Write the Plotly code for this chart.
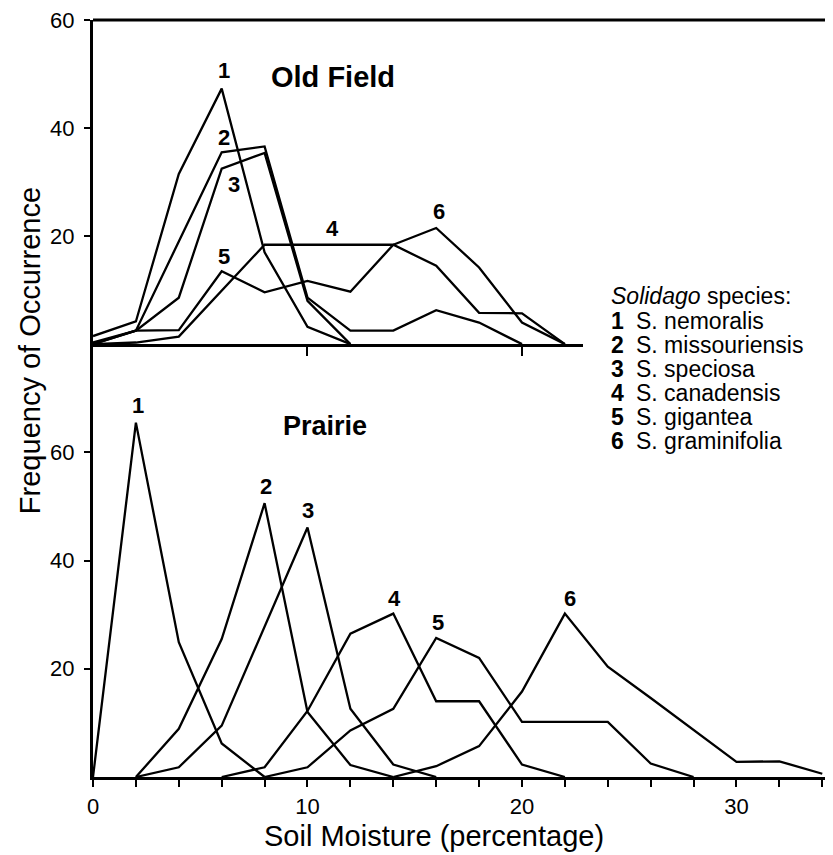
import plotly.graph_objects as go

# ---------------- data ----------------
OLD_FIELD_X = [0, 2, 4, 6, 8, 10, 12, 14, 16, 18, 20, 22]
of_s1 = [1.5, 4.2, 31.5, 47.3, 17.0, 3.2, 0, None, None, None, None, None]
of_s2 = [0, 2.5, 19.0, 35.5, 36.6, 8.6, 2.5, 2.5, 6.3, 4.0, 0, None]
of_s3 = [0, 2.5, 8.6, 32.5, 35.4, 8.0, 0, None, None, None, None, None]
of_s4 = [0, 0.3, 1.4, 9.9, 18.4, 18.4, 18.4, 18.4, 14.5, 5.8, 5.7, 0]
of_s5 = [0.3, 2.5, 2.6, 13.5, 9.6, 11.7, 9.7, 18.4, None, None, None, None]
of_s6 = [None, None, None, None, None, None, None, 18.4, 21.5, 14.2, 4.0, 0]

PRAIRIE_X = [0, 2, 4, 6, 8, 10, 12, 14, 16, 18, 20, 22, 24, 26, 28, 30, 32, 34]
pr_s1 = [0, 65.5, 24.9, 6.2, 0, None, None, None, None, None, None, None, None, None, None, None, None, None]
pr_s2 = [None, 0, 8.9, 25.5, 50.6, 12.0, 2.2, 0, None, None, None, None, None, None, None, None, None, None]
pr_s3 = [None, 0, 1.8, 9.5, 27.7, 46.1, 12.6, 2.3, 0, None, None, None, None, None, None, None, None, None]
pr_s4 = [None, None, None, 0, 1.8, 12.2, 26.5, 30.2, 14.0, 14.0, 2.3, 0, None, None, None, None, None, None]
pr_s5 = [None, None, None, None, 0, 1.8, 8.6, 12.6, 25.7, 22.0, 10.2, 10.2, 10.2, 2.5, 0, None, None, None]
pr_s6 = [None, None, None, None, None, None, None, 0, 2.0, 5.7, 15.8, 30.2, 20.4, 14.6, 8.7, 2.8, 2.9, 0.6]

SPECIES_NUM = ["1", "2", "3", "4", "5", "6"]
SPECIES_NAME = ["S. nemoralis", "S. missouriensis", "S. speciosa",
                "S. canadensis", "S. gigantea", "S. graminifolia"]

X_TICKS = list(range(0, 35, 2))
X_LABELS = {0: "0", 10: "10", 20: "20", 30: "30"}
Y_TICKS = [20, 40, 60]

# ---------------- layout constants ----------------
PAGE = 8                      # default body margin of the html page
W, H = 833 - PAGE, 855 - PAGE
ML, MR, MT, MB = 93 - PAGE, 0, 18 - PAGE, 855 - 777
X_MAX = 34.5
TOP_X_MAX = 22.85
BOTTOM_Y_MAX = 80
TOP_Y_MAX = 60
SPLIT = (777 - 343) / (777 - 18)  # bottom panel share of plot height

FONT = "Liberation Sans, Arial, Helvetica, sans-serif"
LW = 2.3

fig = go.Figure()

of_series = [of_s1, of_s2, of_s3, of_s4, of_s5, of_s6]
pr_series = [pr_s1, pr_s2, pr_s3, pr_s4, pr_s5, pr_s6]

for ys in of_series:
    fig.add_trace(go.Scatter(x=OLD_FIELD_X, y=ys, mode="lines", xaxis="x2", yaxis="y2",
                             line=dict(color="black", width=LW), connectgaps=False,
                             showlegend=False, hoverinfo="skip"))
for ys in pr_series:
    fig.add_trace(go.Scatter(x=PRAIRIE_X, y=ys, mode="lines", xaxis="x", yaxis="y",
                             line=dict(color="black", width=LW), connectgaps=False,
                             showlegend=False, hoverinfo="skip"))

annotations = []

def value_at(xs, ys, x):
    for i in range(len(xs) - 1):
        if xs[i] <= x <= xs[i + 1] and ys[i] is not None and ys[i + 1] is not None:
            t = (x - xs[i]) / (xs[i + 1] - xs[i])
            return ys[i] + t * (ys[i + 1] - ys[i])
    return None

def peak(xs, ys):
    best = max((v, x) for x, v in zip(xs, ys) if v is not None)
    return best[1], best[0]

def txt(**kw):
    base = dict(showarrow=False, xanchor="center", yanchor="middle")
    base.update(kw)
    return base

NUM_FS = 22
# number labels, Old Field: anchored on each curve at a given soil moisture
OF_LABEL_AT = [6, 6, 6, 11, 6, 16]
of_offsets = [(2, 18), (2, 15), (12, -16), (4, 16), (2, 15), (3, 16)]
for num, ys, xa, (dx, dy) in zip(SPECIES_NUM, of_series, OF_LABEL_AT, of_offsets):
    ya = value_at(OLD_FIELD_X, ys, xa)
    annotations.append(txt(x=xa, y=ya, xref="x2", yref="y2", text="<b>%s</b>" % num,
                           xshift=dx, yshift=dy,
                           font=dict(family=FONT, size=NUM_FS, color="black")))

# number labels, Prairie: above each peak
pr_offsets = [(2, 17), (1, 17), (1, 17), (1, 15), (2, 15), (5, 15)]
for num, ys, (dx, dy) in zip(SPECIES_NUM, pr_series, pr_offsets):
    px, py = peak(PRAIRIE_X, ys)
    annotations.append(txt(x=px, y=py, xref="x", yref="y", text="<b>%s</b>" % num,
                           xshift=dx, yshift=dy,
                           font=dict(family=FONT, size=NUM_FS, color="black")))

def paper_xy(px, py):
    """page pixel -> paper coordinates"""
    fx, fy = px - PAGE, py - PAGE
    return (fx - ML) / (W - ML - MR), (H - MB - fy) / (H - MT - MB)

# panel titles
x, y = paper_xy(333, 75)
annotations.append(txt(x=x, y=y, xref="paper", yref="paper", text="<b>Old Field</b>",
                       font=dict(family=FONT, size=29, color="black")))
x, y = paper_xy(325, 425)
annotations.append(txt(x=x, y=y, xref="paper", yref="paper", text="<b>Prairie</b>",
                       font=dict(family=FONT, size=27, color="black")))

# species key
LEG_FS = 23
x0, y0 = paper_xy(609, 295)
annotations.append(txt(x=x0, y=y0, xref="paper", yref="paper", xanchor="left",
                       text="<i>Solidago</i> species:",
                       font=dict(family=FONT, size=LEG_FS, color="black")))
for i, (num, name) in enumerate(zip(SPECIES_NUM, SPECIES_NAME)):
    xn, yn = paper_xy(609, 319.5 + 24.2 * i)
    xs, _ = paper_xy(634, 0)
    annotations.append(txt(x=xn, y=yn, xref="paper", yref="paper", xanchor="left",
                           text="<b>%s</b>" % num,
                           font=dict(family=FONT, size=LEG_FS, color="black")))
    annotations.append(txt(x=xs, y=yn, xref="paper", yref="paper", xanchor="left",
                           text=name,
                           font=dict(family=FONT, size=LEG_FS, color="black")))

# axis titles
x, y = paper_xy(434, 836)
annotations.append(txt(x=x, y=y, xref="paper", yref="paper", text="Soil Moisture (percentage)",
                       font=dict(family=FONT, size=29, color="black")))
x, y = paper_xy(30, 350)
annotations.append(txt(x=x, y=y, xref="paper", yref="paper", text="Frequency of Occurrence",
                       textangle=-90,
                       font=dict(family=FONT, size=29, color="black")))

tick_font = dict(family=FONT, size=22, color="black")
AX_LW = 3

fig.update_layout(
    width=W, height=H,
    margin=dict(l=ML, r=MR, t=MT, b=MB, pad=0),
    paper_bgcolor="white", plot_bgcolor="white",
    showlegend=False,
    xaxis=dict(domain=[0, 1], range=[0, X_MAX], anchor="y",
               showline=True, linewidth=AX_LW, linecolor="black",
               ticks="outside", ticklen=7, tickwidth=1.5, tickcolor="black",
               tickvals=X_TICKS, ticktext=[X_LABELS.get(t, "") for t in X_TICKS],
               tickfont=tick_font, ticklabelstandoff=1, ticklabeloverflow="allow",
               showgrid=False, zeroline=False, fixedrange=True),
    yaxis=dict(domain=[0, SPLIT], range=[0, BOTTOM_Y_MAX], anchor="x",
               showline=True, linewidth=AX_LW, linecolor="black",
               ticks="outside", ticklen=6, tickwidth=1.5, tickcolor="black",
               tickvals=Y_TICKS, tickfont=tick_font, ticklabelstandoff=5,
               ticklabeloverflow="allow",
               showgrid=False, zeroline=False, fixedrange=True),
    xaxis2=dict(domain=[0, TOP_X_MAX / X_MAX], range=[0, TOP_X_MAX], anchor="y2",
                showline=True, linewidth=AX_LW, linecolor="black",
                ticks="outside", ticklen=9, tickwidth=1.5, tickcolor="black",
                tickvals=[10, 20], showticklabels=False,
                showgrid=False, zeroline=False, fixedrange=True),
    yaxis2=dict(domain=[SPLIT, 1], range=[0, TOP_Y_MAX], anchor="x2",
                showline=True, linewidth=AX_LW, linecolor="black",
                ticks="outside", ticklen=6, tickwidth=1.5, tickcolor="black",
                tickvals=Y_TICKS, tickfont=tick_font, ticklabelstandoff=5,
                ticklabeloverflow="allow",
                showgrid=False, zeroline=False, fixedrange=True),
    annotations=annotations,
    shapes=[dict(type="line", xref="paper", yref="paper", x0=0, x1=1, y0=1, y1=1,
                 line=dict(color="black", width=AX_LW))],
)

fig.write_html("out.html")
